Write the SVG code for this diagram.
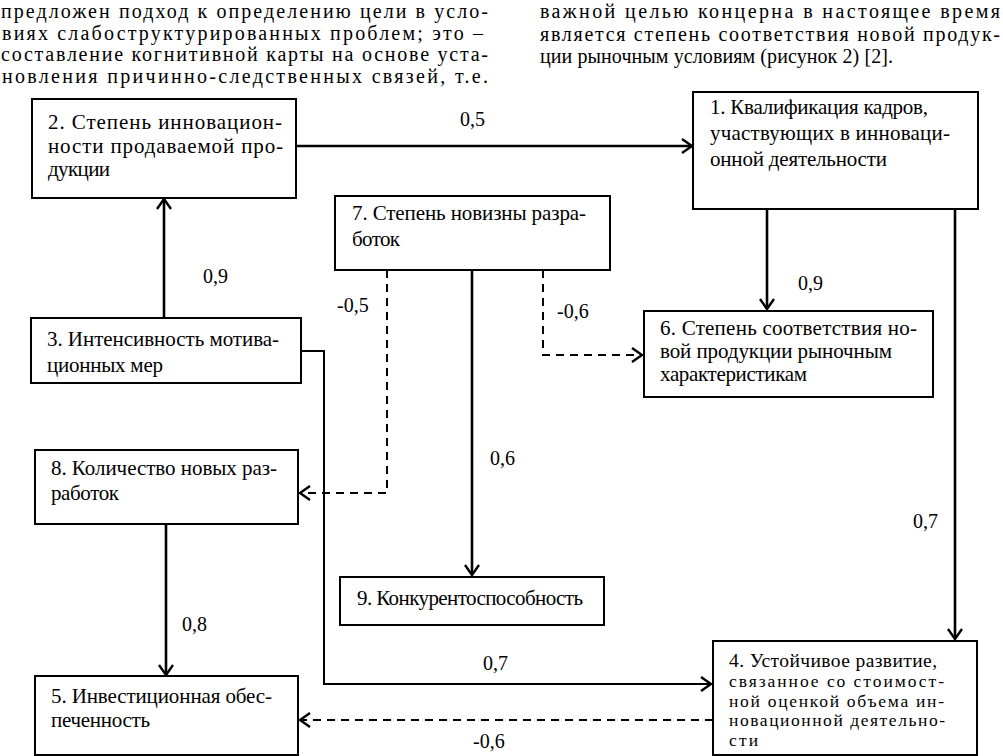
<svg xmlns="http://www.w3.org/2000/svg" width="1003" height="756" viewBox="0 0 1003 756">
<style>
text{font-family:"Liberation Serif","Times New Roman",serif;fill:#000}
.para{font-size:20px}
.lbl{font-size:21px}
.num{font-size:20px}
.l4{font-size:19.5px}
.small{font-size:17.5px}
.box{fill:#fff;stroke:#000;stroke-width:2}
.c{fill:none;stroke:#000;stroke-width:2.6}
.d{fill:none;stroke:#000;stroke-width:2;stroke-dasharray:8 6}
</style>
<defs>
<marker id="ah" viewBox="0 0 12 16" refX="11" refY="8" markerWidth="12" markerHeight="16" markerUnits="userSpaceOnUse" orient="auto">
<path d="M1,1 L11,8 L1,15" fill="none" stroke="#000" stroke-width="2.4"/>
</marker>
</defs>
<rect width="1003" height="756" fill="#fff"/>
<g id="para-left" class="para">
<text x="1" y="18" textLength="487" lengthAdjust="spacing">предложен подход к определению цели в усло-</text>
<text x="2" y="39.5" textLength="481" lengthAdjust="spacing">виях слабоструктурированных проблем; это –</text>
<text x="1" y="61" textLength="487" lengthAdjust="spacing">составление когнитивной карты на основе уста-</text>
<text x="2" y="82.5" textLength="486" lengthAdjust="spacing">новления причинно-следственных связей, т.е.</text>
</g>
<g id="para-right" class="para">
<text x="540" y="18" textLength="460" lengthAdjust="spacing">важной целью концерна в настоящее время</text>
<text x="540" y="40.5" textLength="460" lengthAdjust="spacing">является степень соответствия новой продук-</text>
<text x="540" y="63" textLength="353" lengthAdjust="spacing">ции рыночным условиям (рисунок 2) [2].</text>
</g>
<g id="connectors">
<path class="c" d="M296,146 H692" marker-end="url(#ah)"/>
<path class="c" d="M164,318 V199" marker-end="url(#ah)"/>
<path class="c" d="M767,209 V309" marker-end="url(#ah)"/>
<path class="c" d="M955,209 V639" marker-end="url(#ah)"/>
<path class="c" d="M472,270 V575" marker-end="url(#ah)"/>
<path class="d" d="M387,270 V493 H300" marker-end="url(#ah)"/>
<path class="d" d="M543,270 V355 H642" marker-end="url(#ah)"/>
<path class="c" d="M301,351 H324 V684 H711" marker-end="url(#ah)" style="stroke-width:2"/>
<path class="c" d="M166,524 V675" marker-end="url(#ah)"/>
<path class="d" d="M713,720 H300" marker-end="url(#ah)"/>
<g class="num">
<text x="460" y="126">0,5</text>
<text x="203" y="283">0,9</text>
<text x="337" y="312">-0,5</text>
<text x="557" y="318">-0,6</text>
<text x="798" y="290">0,9</text>
<text x="490" y="465">0,6</text>
<text x="913" y="528">0,7</text>
<text x="182" y="631">0,8</text>
<text x="483" y="670">0,7</text>
<text x="473" y="748">-0,6</text>
</g>
</g>
<g id="node1">
<rect class="box" x="693" y="92" width="285" height="117"/>
<text class="lbl" x="710" y="114" textLength="218" lengthAdjust="spacing">1. Квалификация кадров,</text>
<text class="lbl" x="710" y="140" textLength="240" lengthAdjust="spacing">участвующих в инноваци-</text>
<text class="lbl" x="710" y="166" textLength="177" lengthAdjust="spacing">онной деятельности</text>
</g>
<g id="node2">
<rect class="box" x="32" y="99" width="264" height="99"/>
<text class="lbl" x="48" y="129" textLength="234" lengthAdjust="spacing">2. Степень инновацион-</text>
<text class="lbl" x="48" y="153" textLength="235" lengthAdjust="spacing">ности продаваемой про-</text>
<text class="lbl" x="48" y="176" textLength="62" lengthAdjust="spacing">дукции</text>
</g>
<g id="node7">
<rect class="box" x="335" y="196" width="275" height="74"/>
<text class="lbl" x="352" y="220" textLength="234" lengthAdjust="spacing">7. Степень новизны разра-</text>
<text class="lbl" x="352" y="246" textLength="48" lengthAdjust="spacing">боток</text>
</g>
<g id="node6">
<rect class="box" x="644" y="311" width="289" height="86"/>
<text class="lbl" x="660" y="335" textLength="257" lengthAdjust="spacing">6. Степень соответствия но-</text>
<text class="lbl" x="660" y="358" textLength="232" lengthAdjust="spacing">вой продукции рыночным</text>
<text class="lbl" x="660" y="381" textLength="147" lengthAdjust="spacing">характеристикам</text>
</g>
<g id="node3">
<rect class="box" x="31" y="318" width="270" height="65"/>
<text class="lbl" x="47" y="346" textLength="232" lengthAdjust="spacing">3. Интенсивность мотива-</text>
<text class="lbl" x="47" y="372" textLength="116" lengthAdjust="spacing">ционных мер</text>
</g>
<g id="node8">
<rect class="box" x="35" y="450" width="263" height="74"/>
<text class="lbl" x="51" y="475" textLength="226" lengthAdjust="spacing">8. Количество новых раз-</text>
<text class="lbl" x="51" y="500" textLength="68" lengthAdjust="spacing">работок</text>
</g>
<g id="node9">
<rect class="box" x="340" y="577" width="264" height="48"/>
<text class="lbl" x="357" y="605" textLength="226" lengthAdjust="spacing">9. Конкурентоспособность</text>
</g>
<g id="node5">
<rect class="box" x="35" y="676" width="263" height="79"/>
<text class="lbl" x="51" y="703" textLength="221" lengthAdjust="spacing">5. Инвестиционная обес-</text>
<text class="lbl" x="51" y="727" textLength="99" lengthAdjust="spacing">печенность</text>
</g>
<g id="node4">
<rect class="box" x="713" y="641" width="264" height="114"/>
<text class="l4" x="729" y="667" textLength="208" lengthAdjust="spacing">4. Устойчивое развитие,</text>
<text class="small" x="729" y="687" textLength="215" lengthAdjust="spacing">связанное со стоимост-</text>
<text class="small" x="729" y="706.5" textLength="215" lengthAdjust="spacing">ной оценкой объема ин-</text>
<text class="small" x="729" y="726" textLength="216" lengthAdjust="spacing">новационной деятельно-</text>
<text class="small" x="729" y="745.5" textLength="29" lengthAdjust="spacing">сти</text>
</g>
</svg>
